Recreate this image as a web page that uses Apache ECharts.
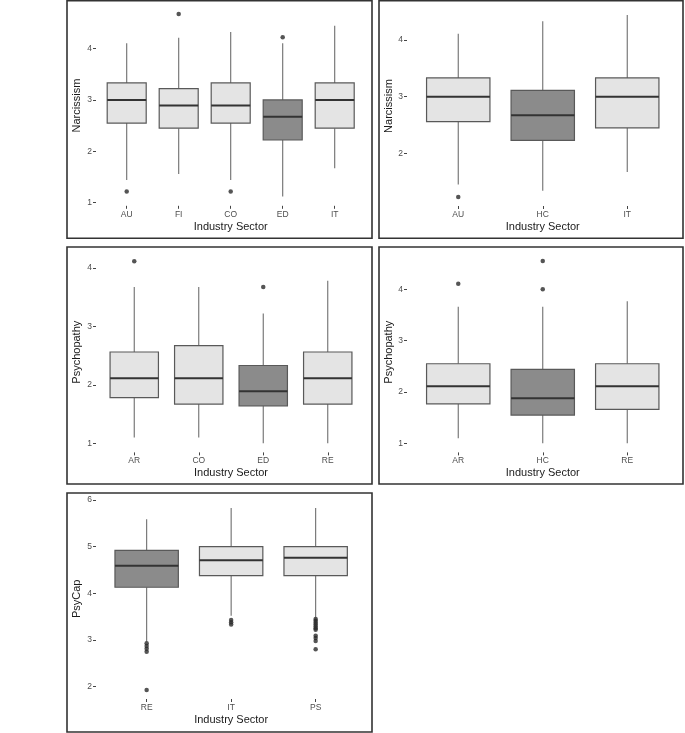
<!DOCTYPE html>
<html>
<head>
<meta charset="utf-8">
<script src="https://cdn.jsdelivr.net/npm/echarts@6/dist/echarts.min.js"></script>
<style>
html,body{margin:0;padding:0;background:#fff;}
#chart{width:685px;height:733px;}
</style>
</head>
<body>
<div id="chart"></div>
<script>
// ---------- DATA ----------
// Panel 1: Narcissism by sector (5 sectors)
const p1Cats = ['AU', 'FI', 'CO', 'ED', 'IT'];
const p1Stats = [ // [lower whisker, Q1, median, Q3, upper whisker]
  [1.44, 2.55, 3.00, 3.33, 4.10],
  [1.56, 2.45, 2.89, 3.22, 4.21],
  [1.44, 2.55, 2.89, 3.33, 4.32],
  [1.12, 2.22, 2.67, 3.00, 4.10],
  [1.67, 2.45, 3.00, 3.33, 4.44]
];
const p1Outliers = [['AU', 1.22], ['FI', 4.67], ['CO', 1.22], ['ED', 4.22]];
const p1Dark = 'ED';

// Panel 2: Narcissism by sector (3 sectors)
const p2Cats = ['AU', 'HC', 'IT'];
const p2Stats = [
  [1.45, 2.56, 3.00, 3.33, 4.11],
  [1.34, 2.23, 2.67, 3.11, 4.33],
  [1.67, 2.45, 3.00, 3.33, 4.44]
];
const p2Outliers = [['AU', 1.23]];
const p2Dark = 'HC';

// Panel 3: Psychopathy by sector (4 sectors)
const p3Cats = ['AR', 'CO', 'ED', 'RE'];
const p3Stats = [
  [1.10, 1.78, 2.11, 2.56, 3.67],
  [1.10, 1.67, 2.11, 2.67, 3.67],
  [1.00, 1.64, 1.89, 2.33, 3.22],
  [1.00, 1.67, 2.11, 2.56, 3.78]
];
const p3Outliers = [['AR', 4.11], ['ED', 3.67]];
const p3Dark = 'ED';

// Panel 4: Psychopathy by sector (3 sectors)
const p4Cats = ['AR', 'HC', 'RE'];
const p4Stats = [
  [1.10, 1.77, 2.11, 2.55, 3.66],
  [1.00, 1.55, 1.88, 2.44, 3.66],
  [1.00, 1.66, 2.11, 2.55, 3.77]
];
const p4Outliers = [['AR', 4.11], ['HC', 4.55], ['HC', 4.00]];
const p4Dark = 'HC';

// Panel 5: PsyCap by sector
const p5Cats = ['RE', 'IT', 'PS'];
const p5Stats = [
  [2.97, 4.13, 4.59, 4.92, 5.59],
  [3.52, 4.38, 4.71, 5.00, 5.83],
  [3.48, 4.38, 4.76, 5.00, 5.83]
];
const p5Outliers = [
  ['RE', 2.93], ['RE', 2.87], ['RE', 2.81], ['RE', 2.75], ['RE', 1.93],
  ['IT', 3.43], ['IT', 3.38], ['IT', 3.33],
  ['PS', 3.45], ['PS', 3.41], ['PS', 3.37], ['PS', 3.33], ['PS', 3.29], ['PS', 3.25], ['PS', 3.22],
  ['PS', 3.09], ['PS', 3.04], ['PS', 2.98], ['PS', 2.80]
];
const p5Dark = 'RE';

const yTitles = ['Narcissism', 'Narcissism', 'Psychopathy', 'Psychopathy', 'PsyCap'];
const yTicks = [[1, 2, 3, 4], [1, 2, 3, 4], [1, 2, 3, 4], [1, 2, 3, 4], [2, 3, 4, 5, 6]];
const xTitle = 'Industry Sector';

// ---------- LAYOUT / STYLE ----------
// axisX: x position of the y axis (panel edge); grid spans category bands only
const panels = [
  {cats: p1Cats, stats: p1Stats, out: p1Outliers, dark: p1Dark, axisX: 96, yGap: 14, grid: {left: 100.7, top: 5.3, width: 260, height: 200.5}, ymin: 0.94, ymax: 4.84, border: [67, 0.75, 305, 237.5]},
  {cats: p2Cats, stats: p2Stats, out: p2Outliers, dark: p2Dark, axisX: 407, yGap: 11.5, grid: {left: 416, top: 6, width: 253.5, height: 200}, ymin: 1.07, ymax: 4.60, border: [379, 0.75, 304, 237.5]},
  {cats: p3Cats, stats: p3Stats, out: p3Outliers, dark: p3Dark, axisX: 96, yGap: 14, grid: {left: 102, top: 252, width: 258, height: 200.4}, ymin: 0.844, ymax: 4.27, border: [67, 247, 305, 237]},
  {cats: p4Cats, stats: p4Stats, out: p4Outliers, dark: p4Dark, axisX: 407, yGap: 11.5, grid: {left: 416, top: 252, width: 253.5, height: 200.4}, ymin: 0.8225, ymax: 4.7275, border: [379, 247, 304, 237]},
  {cats: p5Cats, stats: p5Stats, out: p5Outliers, dark: p5Dark, axisX: 96, yGap: 14, grid: {left: 104.4, top: 498.6, width: 253.5, height: 200.4}, ymin: 1.735, ymax: 6.03, border: [67, 493, 305, 239]}
];

const FONT = '"Liberation Sans", Arial, Helvetica, sans-serif';
const LIGHT = '#e4e4e4';
const DARK = '#8b8b8b';
const BOXLINE = '#595959';
const WHISK = '#6e6e6e';
const MEDIAN = '#333333';

function renderBox(params, api) {
  const x = api.value(0);
  const lo = api.coord([x, api.value(1)]);
  const q1 = api.coord([x, api.value(2)]);
  const md = api.coord([x, api.value(3)]);
  const q3 = api.coord([x, api.value(4)]);
  const hi = api.coord([x, api.value(5)]);
  const w = api.size([1, 0])[0] * 0.75;
  const fill = api.value(6) ? DARK : LIGHT;
  const cx = md[0];
  return {
    type: 'group',
    children: [
      {type: 'line', shape: {x1: cx, y1: lo[1], x2: cx, y2: q1[1]}, style: {stroke: WHISK, lineWidth: 1.1}},
      {type: 'line', shape: {x1: cx, y1: q3[1], x2: cx, y2: hi[1]}, style: {stroke: WHISK, lineWidth: 1.1}},
      {type: 'rect', shape: {x: md[0] - w / 2, y: q3[1], width: w, height: q1[1] - q3[1]}, style: {fill: fill, stroke: BOXLINE, lineWidth: 1.2}},
      {type: 'line', shape: {x1: md[0] - w / 2, y1: md[1], x2: md[0] + w / 2, y2: md[1]}, style: {stroke: MEDIAN, lineWidth: 2}}
    ]
  };
}

const grids = [], xAxes = [], yAxes = [], series = [], graphics = [];
panels.forEach((p, i) => {
  grids.push(Object.assign({containLabel: false}, p.grid));
  xAxes.push({
    type: 'category', gridIndex: i, data: p.cats, boundaryGap: true,
    axisLine: {show: false},
    axisTick: {show: true, alignWithLabel: true, length: 3, lineStyle: {color: '#444', width: 1}},
    axisLabel: {fontSize: 8.5, color: '#4d4d4d', margin: 4, fontFamily: FONT},
    splitLine: {show: false},
    name: xTitle, nameLocation: 'middle', nameGap: 15.5,
    nameTextStyle: {fontSize: 11, color: '#1a1a1a', fontFamily: FONT}
  });
  yAxes.push({
    type: 'value', gridIndex: i, min: p.ymin, max: p.ymax,
    offset: p.grid.left - p.axisX,
    axisLine: {show: false},
    axisTick: {show: true, length: 3, customValues: yTicks[i], lineStyle: {color: '#444', width: 1}},
    axisLabel: {fontSize: 8.5, color: '#4d4d4d', margin: 4, customValues: yTicks[i], fontFamily: FONT},
    splitLine: {show: false},
    name: yTitles[i], nameLocation: 'middle', nameGap: p.yGap, nameRotate: 90,
    nameTextStyle: {fontSize: 11, color: '#1a1a1a', fontFamily: FONT}
  });
  series.push({
    type: 'custom', xAxisIndex: i, yAxisIndex: i, renderItem: renderBox,
    encode: {x: 0, y: [1, 2, 3, 4, 5]},
    data: p.stats.map((s, k) => [k, s[0], s[1], s[2], s[3], s[4], p.cats[k] === p.dark ? 1 : 0]),
    z: 2
  });
  series.push({
    type: 'scatter', xAxisIndex: i, yAxisIndex: i, symbol: 'circle', symbolSize: 4.5,
    itemStyle: {color: '#2b2b2b'},
    data: p.out.map(o => [p.cats.indexOf(o[0]), o[1]]),
    z: 3
  });
  const b = p.border;
  graphics.push({
    type: 'rect', shape: {x: b[0], y: b[1], width: b[2], height: b[3]},
    style: {fill: null, stroke: '#333333', lineWidth: 1.6}, z: 10, silent: true
  });
});

const chart = echarts.init(document.getElementById('chart'), null, {renderer: 'canvas'});
chart.setOption({
  animation: false,
  backgroundColor: '#ffffff',
  textStyle: {fontFamily: FONT},
  grid: grids,
  xAxis: xAxes,
  yAxis: yAxes,
  series: series,
  graphic: graphics
});
</script>
</body>
</html>
